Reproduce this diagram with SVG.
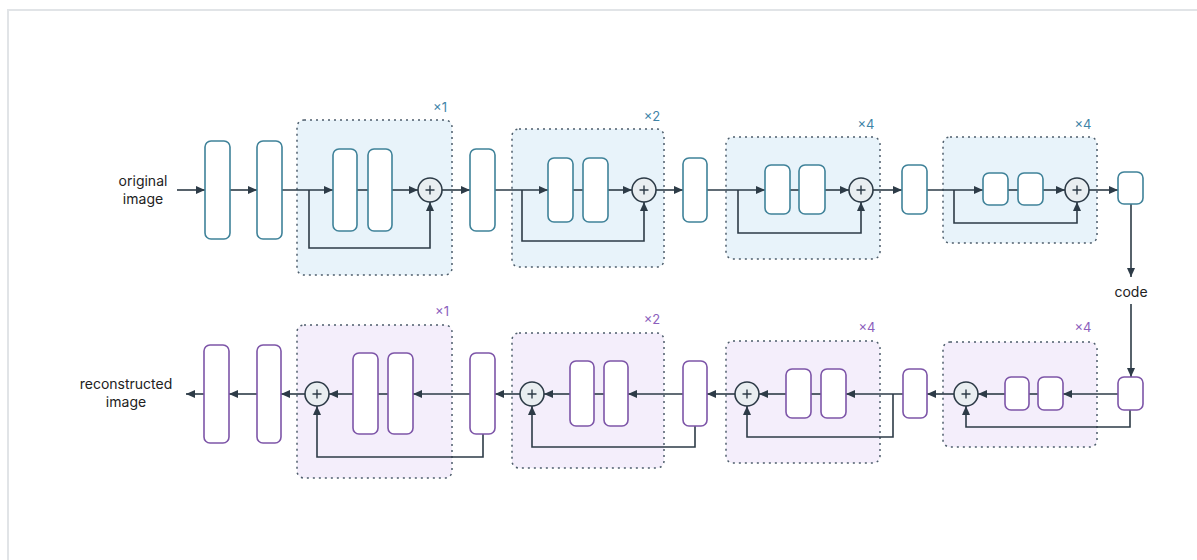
<svg xmlns="http://www.w3.org/2000/svg" width="1197" height="560" viewBox="0 0 1197 560">
<style>
.bg{fill:#ffffff}
.frame{fill:none;stroke:#e1e4e7;stroke-width:2}
.gE{fill:#e8f3fa;stroke:#4e5e6c;stroke-width:1.5;stroke-dasharray:2 4}
.gD{fill:#f4eefb;stroke:#4e5e6c;stroke-width:1.5;stroke-dasharray:2 4}
.bE{fill:#ffffff;stroke:#3f8299;stroke-width:1.6}
.bD{fill:#ffffff;stroke:#7d55a8;stroke-width:1.6}
.sum{fill:#e9eef1;stroke:#2d3b47;stroke-width:1.6}
.plus{stroke:#2d3b47;stroke-width:1.4}
.c{fill:none;stroke:#2d3b47;stroke-width:1.6}
.t{font-family:Inter,"Liberation Sans",sans-serif;font-size:14px;fill:#222;text-anchor:middle}
.mE{font-family:Inter,"Liberation Sans",sans-serif;font-size:13px;fill:#3f84a8;text-anchor:middle}
.mD{font-family:Inter,"Liberation Sans",sans-serif;font-size:13px;fill:#8c60bd;text-anchor:middle}
</style>
<defs>
<marker id="ah" markerUnits="userSpaceOnUse" markerWidth="10" markerHeight="10" refX="9" refY="5" orient="auto">
<path d="M0,1 L9,5 L0,9 Z" fill="#2d3b47"/>
</marker>
</defs>
<rect class="bg" x="0" y="0" width="1197" height="560"/>
<path class="frame" d="M8,560 V10 H1197"/>

<!-- groups (dashed boxes) -->
<g id="enc-group-1"><rect class="gE" x="297" y="120" width="155" height="155" rx="7"/><text class="mE" x="440" y="112">×1</text></g>
<g id="enc-group-2"><rect class="gE" x="512" y="129" width="152" height="138" rx="7"/><text class="mE" x="652" y="121">×2</text></g>
<g id="enc-group-3"><rect class="gE" x="726" y="137" width="154" height="122" rx="7"/><text class="mE" x="866" y="129">×4</text></g>
<g id="enc-group-4"><rect class="gE" x="943" y="137" width="154" height="106" rx="7"/><text class="mE" x="1083" y="129">×4</text></g>
<g id="dec-group-1"><rect class="gD" x="297" y="325" width="155" height="153" rx="7"/><text class="mD" x="442" y="316">×1</text></g>
<g id="dec-group-2"><rect class="gD" x="512" y="333" width="152" height="135" rx="7"/><text class="mD" x="652" y="324">×2</text></g>
<g id="dec-group-3"><rect class="gD" x="726" y="341" width="154" height="122" rx="7"/><text class="mD" x="867" y="332">×4</text></g>
<g id="dec-group-4"><rect class="gD" x="943" y="342" width="154" height="105" rx="7"/><text class="mD" x="1083" y="332">×4</text></g>

<!-- connectors -->
<g id="connectors">
<path class="c" marker-end="url(#ah)" d="M177,190 H205"/>
<path class="c" marker-end="url(#ah)" d="M230,190 H257"/>
<path class="c" marker-end="url(#ah)" d="M282,190 H333"/>
<path class="c" d="M357,190 H368"/>
<path class="c" marker-end="url(#ah)" d="M392,190 H418"/>
<path class="c" marker-end="url(#ah)" d="M309,190 V248 H430 V202"/>
<path class="c" marker-end="url(#ah)" d="M442,190 H470"/>
<path class="c" marker-end="url(#ah)" d="M495,190 H548"/>
<path class="c" d="M573,190 H583"/>
<path class="c" marker-end="url(#ah)" d="M608,190 H632"/>
<path class="c" marker-end="url(#ah)" d="M522,190 V241 H644 V202"/>
<path class="c" marker-end="url(#ah)" d="M656,190 H683"/>
<path class="c" marker-end="url(#ah)" d="M707,190 H765"/>
<path class="c" d="M790,190 H799"/>
<path class="c" marker-end="url(#ah)" d="M825,190 H849"/>
<path class="c" marker-end="url(#ah)" d="M738,190 V233 H861 V202"/>
<path class="c" marker-end="url(#ah)" d="M873,190 H902"/>
<path class="c" marker-end="url(#ah)" d="M927,190 H983"/>
<path class="c" d="M1008,190 H1018"/>
<path class="c" marker-end="url(#ah)" d="M1043,190 H1065"/>
<path class="c" marker-end="url(#ah)" d="M954,190 V223 H1077 V202"/>
<path class="c" marker-end="url(#ah)" d="M1089,190 H1118"/>
<path class="c" marker-end="url(#ah)" d="M1131,204 V277"/>
<path class="c" marker-end="url(#ah)" d="M1131,304 V377"/>

<path class="c" marker-end="url(#ah)" d="M1118,394 H1063"/>
<path class="c" marker-end="url(#ah)" d="M1130,410 V427 H966 V406"/>
<path class="c" d="M1038,394 H1029"/>
<path class="c" marker-end="url(#ah)" d="M1005,394 H978"/>
<path class="c" marker-end="url(#ah)" d="M954,394 H927"/>
<path class="c" marker-end="url(#ah)" d="M903,394 H846"/>
<path class="c" marker-end="url(#ah)" d="M893,394 V437 H747 V406"/>
<path class="c" d="M821,394 H811"/>
<path class="c" marker-end="url(#ah)" d="M786,394 H759"/>
<path class="c" marker-end="url(#ah)" d="M735,394 H707"/>
<path class="c" marker-end="url(#ah)" d="M683,394 H628"/>
<path class="c" marker-end="url(#ah)" d="M695,426 V447 H532 V406"/>
<path class="c" d="M604,394 H594"/>
<path class="c" marker-end="url(#ah)" d="M570,394 H544"/>
<path class="c" marker-end="url(#ah)" d="M520,394 H495"/>
<path class="c" marker-end="url(#ah)" d="M470,394 H413"/>
<path class="c" marker-end="url(#ah)" d="M483,434 V457 H317 V406"/>
<path class="c" d="M388,394 H378"/>
<path class="c" marker-end="url(#ah)" d="M353,394 H329"/>
<path class="c" marker-end="url(#ah)" d="M305,394 H281"/>
<path class="c" marker-end="url(#ah)" d="M257,394 H229"/>
<path class="c" marker-end="url(#ah)" d="M204,394 H186"/>
</g>

<!-- labels -->
<g id="label-input"><text class="t" x="143" y="186">original</text><text class="t" x="143" y="204">image</text></g>
<g id="label-code"><text class="t" x="1131" y="297">code</text></g>
<g id="label-output"><text class="t" x="126" y="389">reconstructed</text><text class="t" x="126" y="407">image</text></g>

<!-- encoder blocks -->
<g id="enc-conv-1"><rect class="bE" x="205" y="141" width="25" height="98" rx="6"/></g>
<g id="enc-conv-2"><rect class="bE" x="257" y="141" width="25" height="98" rx="6"/></g>
<g id="enc-res1-a"><rect class="bE" x="333" y="149" width="24" height="82" rx="6"/></g>
<g id="enc-res1-b"><rect class="bE" x="368" y="149" width="24" height="82" rx="6"/></g>
<g id="enc-sum-1"><circle class="sum" cx="430" cy="190" r="12"/><path class="plus" d="M425.5,190 H434.5 M430,185.5 V194.5"/></g>
<g id="enc-down-1"><rect class="bE" x="470" y="149" width="25" height="82" rx="6"/></g>
<g id="enc-res2-a"><rect class="bE" x="548" y="158" width="25" height="64" rx="6"/></g>
<g id="enc-res2-b"><rect class="bE" x="583" y="158" width="25" height="64" rx="6"/></g>
<g id="enc-sum-2"><circle class="sum" cx="644" cy="190" r="12"/><path class="plus" d="M639.5,190 H648.5 M644,185.5 V194.5"/></g>
<g id="enc-down-2"><rect class="bE" x="683" y="158" width="24" height="64" rx="6"/></g>
<g id="enc-res3-a"><rect class="bE" x="765" y="165" width="25" height="49" rx="6"/></g>
<g id="enc-res3-b"><rect class="bE" x="799" y="165" width="26" height="49" rx="6"/></g>
<g id="enc-sum-3"><circle class="sum" cx="861" cy="190" r="12"/><path class="plus" d="M856.5,190 H865.5 M861,185.5 V194.5"/></g>
<g id="enc-down-3"><rect class="bE" x="902" y="165" width="25" height="49" rx="6"/></g>
<g id="enc-res4-a"><rect class="bE" x="983" y="173" width="25" height="32" rx="6"/></g>
<g id="enc-res4-b"><rect class="bE" x="1018" y="173" width="25" height="32" rx="6"/></g>
<g id="enc-sum-4"><circle class="sum" cx="1077" cy="190" r="12"/><path class="plus" d="M1072.5,190 H1081.5 M1077,185.5 V194.5"/></g>
<g id="enc-out"><rect class="bE" x="1118" y="172" width="25" height="32" rx="6"/></g>

<!-- decoder blocks -->
<g id="dec-in"><rect class="bD" x="1118" y="377" width="25" height="33" rx="6"/></g>
<g id="dec-res4-b"><rect class="bD" x="1038" y="377" width="25" height="33" rx="6"/></g>
<g id="dec-res4-a"><rect class="bD" x="1005" y="377" width="24" height="33" rx="6"/></g>
<g id="dec-sum-4"><circle class="sum" cx="966" cy="394" r="12"/><path class="plus" d="M961.5,394 H970.5 M966,389.5 V398.5"/></g>
<g id="dec-up-3"><rect class="bD" x="903" y="369" width="24" height="49" rx="6"/></g>
<g id="dec-res3-b"><rect class="bD" x="821" y="369" width="25" height="49" rx="6"/></g>
<g id="dec-res3-a"><rect class="bD" x="786" y="369" width="25" height="49" rx="6"/></g>
<g id="dec-sum-3"><circle class="sum" cx="747" cy="394" r="12"/><path class="plus" d="M742.5,394 H751.5 M747,389.5 V398.5"/></g>
<g id="dec-up-2"><rect class="bD" x="683" y="361" width="24" height="65" rx="6"/></g>
<g id="dec-res2-b"><rect class="bD" x="604" y="361" width="24" height="65" rx="6"/></g>
<g id="dec-res2-a"><rect class="bD" x="570" y="361" width="24" height="65" rx="6"/></g>
<g id="dec-sum-2"><circle class="sum" cx="532" cy="394" r="12"/><path class="plus" d="M527.5,394 H536.5 M532,389.5 V398.5"/></g>
<g id="dec-up-1"><rect class="bD" x="470" y="353" width="25" height="81" rx="6"/></g>
<g id="dec-res1-b"><rect class="bD" x="388" y="353" width="25" height="81" rx="6"/></g>
<g id="dec-res1-a"><rect class="bD" x="353" y="353" width="25" height="81" rx="6"/></g>
<g id="dec-sum-1"><circle class="sum" cx="317" cy="394" r="12"/><path class="plus" d="M312.5,394 H321.5 M317,389.5 V398.5"/></g>
<g id="dec-conv-2"><rect class="bD" x="257" y="345" width="24" height="98" rx="6"/></g>
<g id="dec-conv-1"><rect class="bD" x="204" y="345" width="25" height="98" rx="6"/></g>
</svg>
